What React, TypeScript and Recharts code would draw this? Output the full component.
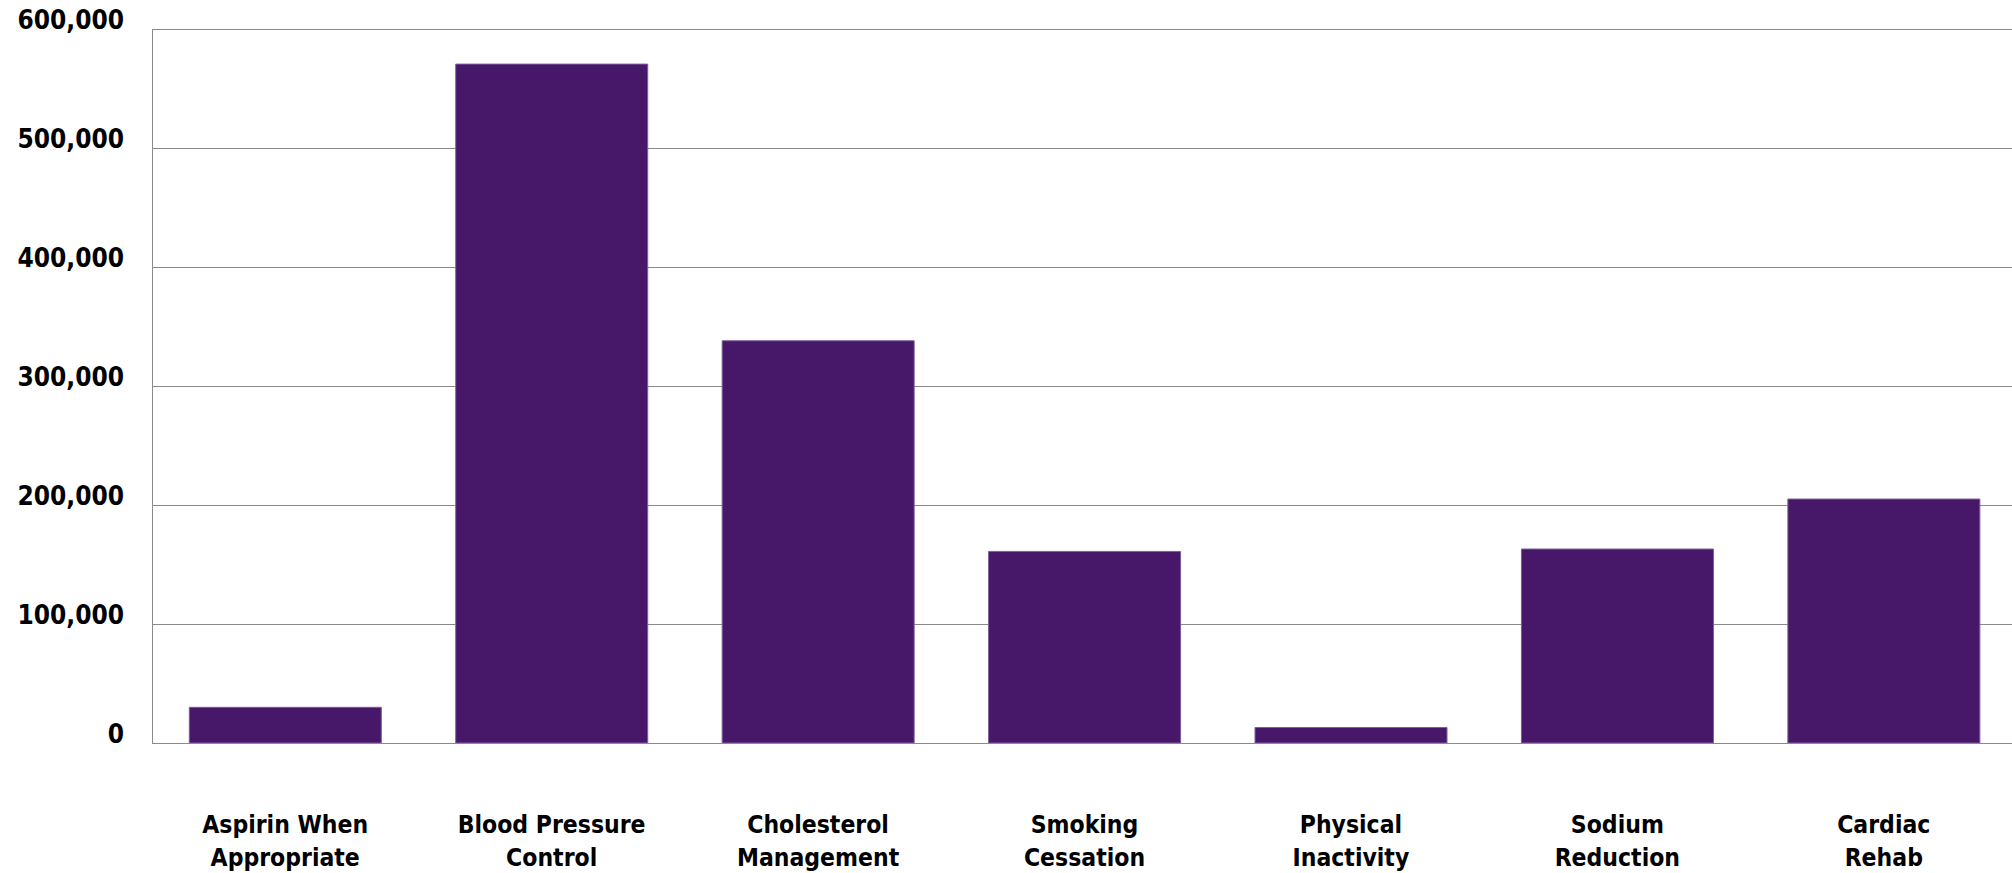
import React from 'react';
import { BarChart, Bar, XAxis, YAxis, CartesianGrid } from 'recharts';

const categories = [
  'Aspirin When Appropriate',
  'Blood Pressure Control',
  'Cholesterol Management',
  'Smoking Cessation',
  'Physical Inactivity',
  'Sodium Reduction',
  'Cardiac Rehab',
];

// two-line tick labels, same order as categories
const labelLines = [
  ['Aspirin When', 'Appropriate'],
  ['Blood Pressure', 'Control'],
  ['Cholesterol', 'Management'],
  ['Smoking', 'Cessation'],
  ['Physical', 'Inactivity'],
  ['Sodium', 'Reduction'],
  ['Cardiac', 'Rehab'],
];

const values = [30000, 570500, 338000, 161000, 13000, 163000, 205000];

const yTicks = [0, 100000, 200000, 300000, 400000, 500000, 600000];

const data = categories.map((name, i) => ({ name, value: values[i] }));

const GRID = '#8a8a8a';
const BAR = '#47176a';

const YTick = (props: any) => {
  const { x, y, payload } = props;
  return (
    <text
      x={x}
      y={y}
      textAnchor="end"
      fill="#000"
      fontFamily="'DejaVu Sans Condensed', 'DejaVu Sans', sans-serif"
      fontWeight="bold"
      fontSize={26}
    >
      {payload.value.toLocaleString('en-US')}
    </text>
  );
};

const XTick = (props: any) => {
  const { x, y, index } = props;
  const lines = labelLines[index] || [];
  return (
    <text
      x={x}
      y={y}
      textAnchor="middle"
      fill="#000"
      fontFamily="'DejaVu Sans Condensed', 'DejaVu Sans', sans-serif"
      fontWeight="bold"
      fontSize={24.5}
    >
      {lines.map((line, i) => (
        <tspan key={i} x={x} dy={i === 0 ? 90 : 33}>
          {line}
        </tspan>
      ))}
    </text>
  );
};

export default function App() {
  return (
    <div style={{ position: 'absolute', left: 0, top: 0, background: '#fff' }}>
      <BarChart
        width={2012}
        height={873}
        data={data}
        margin={{ top: 29, right: -5, bottom: 0, left: 0 }}
        barCategoryGap="14%"
      >
        <CartesianGrid vertical={false} stroke={GRID} strokeWidth={1} shapeRendering="crispEdges" />
        <XAxis
          dataKey="name"
          height={130}
          axisLine={{ stroke: GRID, strokeWidth: 1, shapeRendering: 'crispEdges' }}
          tickLine={false}
          tickSize={0}
          tickMargin={0}
          interval={0}
          tick={<XTick />}
        />
        <YAxis
          width={152}
          domain={[0, 600000]}
          ticks={yTicks}
          axisLine={{ stroke: GRID, strokeWidth: 1, shapeRendering: 'crispEdges' }}
          tickLine={false}
          tickSize={0}
          tickMargin={28}
          tick={<YTick />}
        />
        <Bar dataKey="value" fill={BAR} stroke="#7d5e9a" strokeWidth={1} isAnimationActive={false} />
      </BarChart>
    </div>
  );
}
